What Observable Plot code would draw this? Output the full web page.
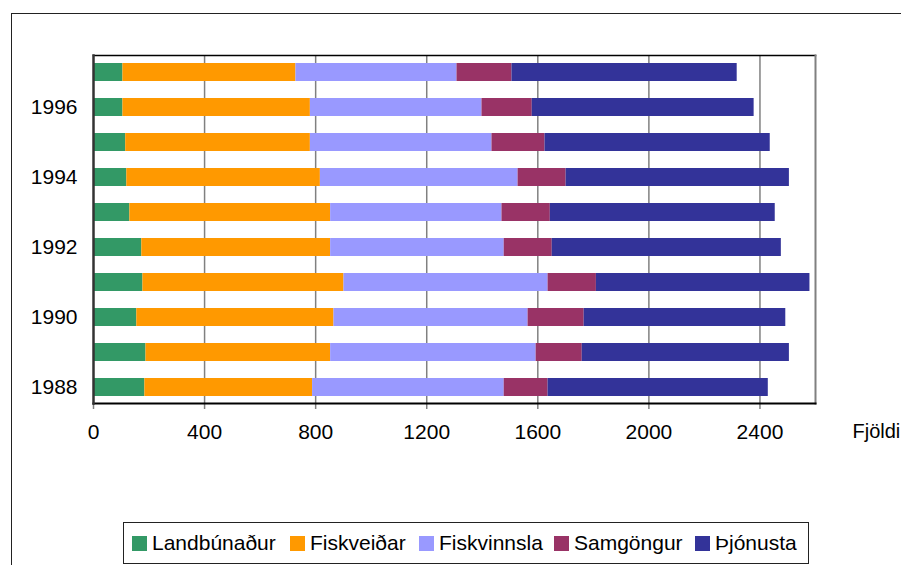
<!DOCTYPE html>
<html>
<head>
<meta charset="utf-8">
<script src="https://cdn.jsdelivr.net/npm/d3@7"></script>
<script src="https://cdn.jsdelivr.net/npm/@observablehq/plot@0.6"></script>
<style>
  html, body { margin: 0; padding: 0; background: #fff; overflow: hidden; width: 901px; height: 565px; }
  #wrap { position: relative; width: 901px; height: 565px; font-family: "Liberation Sans", Arial, sans-serif; }
  #frame { position: absolute; left: 11px; top: 13px; width: 1000px; height: 1000px; border: 1.5px solid #222; box-sizing: border-box; }
  #chart { position: absolute; left: 0; top: 0; }
  #legend { position: absolute; left: 123px; top: 522px; width: 686px; height: 42px; border: 1px solid #222; box-sizing: border-box; background: #fff; font-size: 21px; color: #000; }
  .item { position: absolute; top: 0; height: 40px; display: flex; align-items: center; white-space: nowrap; }
  .sw { width: 15px; height: 15px; margin-right: 5px; }
</style>
</head>
<body>
<div id="wrap">
  <div id="frame"></div>
  <div id="chart"></div>
  <div id="legend"></div>
</div>
<script>
const years = [1988, 1989, 1990, 1991, 1992, 1993, 1994, 1995, 1996, 1997];
const series = ["Landbúnaður", "Fiskveiðar", "Fiskvinnsla", "Samgöngur", "Þjónusta"];
const colors = ["#339966", "#FF9900", "#9999FF", "#993366", "#333399"];
const landbunadur = [185, 189, 156, 178, 174, 131, 120, 116, 106, 106];
const fiskveidar  = [604, 665, 710, 724, 680, 723, 697, 665, 675, 623];
const fiskvinnsla = [690, 740, 699, 735, 625, 617, 712, 654, 618, 580];
const samgongur   = [158, 166, 202, 174, 173, 174, 173, 191, 181, 198];
const thjonusta   = [793, 746, 726, 769, 825, 810, 804, 811, 799, 811];
const xTicks = [0, 400, 800, 1200, 1600, 2000, 2400];
const yTickYears = [1988, 1990, 1992, 1994, 1996];

const valuesBySeries = [landbunadur, fiskveidar, fiskvinnsla, samgongur, thjonusta];
const data = [];
years.forEach((yr, i) => {
  series.forEach((s, j) => data.push({year: String(yr), series: s, value: valuesBySeries[j][i]}));
});

const chart = Plot.plot({
  width: 901,
  height: 515,
  marginLeft: 93,
  marginRight: 86,
  marginTop: 55,
  marginBottom: 112,
  style: {fontFamily: "'Liberation Sans', Arial, sans-serif", fontSize: "21px", color: "#000", background: "transparent"},
  x: {domain: [0, 2600], ticks: xTicks, label: null, grid: false},
  y: {domain: years.map(String).reverse(), paddingInner: 0.5, paddingOuter: 0.22, label: null},
  color: {domain: series, range: colors},
  marks: [
    Plot.gridX(xTicks.slice(1), {stroke: "#808080", strokeOpacity: 1, strokeWidth: 1.5}),
    Plot.barX(data, Plot.stackX({y: "year", x: "value", fill: "series", order: series})),
    Plot.frame({anchor: "top", stroke: "#000", strokeWidth: 1.5}),
    Plot.frame({anchor: "right", stroke: "#808080", strokeWidth: 2}),
    Plot.axisX({ticks: xTicks, tickFormat: d => String(d), tickSize: 6, tickPadding: 15, stroke: "#808080", strokeWidth: 1.5, label: null, fontSize: 21}),
    Plot.axisY({ticks: yTickYears.map(String), tickSize: 0, tickPadding: 16, label: null, fontSize: 21}),
    Plot.frame({anchor: "bottom", stroke: "#000", strokeWidth: 2}),
    Plot.frame({anchor: "left", stroke: "#333", strokeWidth: 2.5}),
    Plot.text(["Fjöldi"], {frameAnchor: "bottom-right", dx: 37, dy: 34, textAnchor: "start", fontSize: 20})
  ]
});
document.getElementById("chart").appendChild(chart);

const legendX = [8, 166, 295, 430, 571];
const legend = document.getElementById("legend");
series.forEach((s, i) => {
  const it = document.createElement("div");
  it.className = "item";
  it.style.left = legendX[i] + "px";
  const sw = document.createElement("div");
  sw.className = "sw";
  sw.style.background = colors[i];
  it.appendChild(sw);
  const t = document.createElement("span");
  t.textContent = s;
  it.appendChild(t);
  legend.appendChild(it);
});
</script>
</body>
</html>
